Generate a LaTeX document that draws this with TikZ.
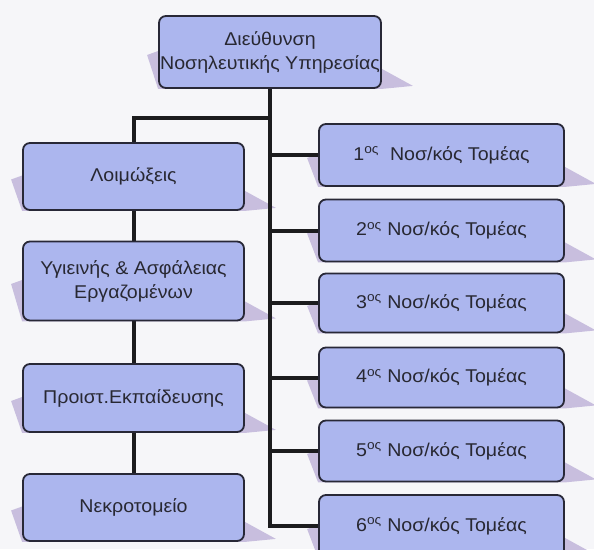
\documentclass[tikz,border=0pt]{standalone}
\usepackage{fontspec}
\setmainfont{Liberation Sans}[FakeStretch=1.06]
\usetikzlibrary{calc}
\pgfdeclarelayer{paperlayer}
\pgfdeclarelayer{behind}
\pgfsetlayers{paperlayer,behind,main}
\definecolor{boxfill}{RGB}{172,182,238}
\definecolor{boxline}{RGB}{40,40,55}
\definecolor{shade}{RGB}{200,190,222}
\definecolor{ink}{RGB}{40,40,50}
\definecolor{paper}{RGB}{246,246,249}
\definecolor{wire}{RGB}{28,28,30}
\begin{document}
\begin{tikzpicture}[x=1pt,y=-1pt,
  unit/.style 2 args={draw=boxline, line width=1.8pt, fill=boxfill,
    rounded corners=7pt, minimum width=#1, minimum height=#2,
    align=center, text=ink, inner sep=0pt,
    font=\fontsize{18.5}{24}\selectfont},
  conn/.style={draw=wire, line width=4pt},
  drop/.style={fill=shade}]
\begin{pgfonlayer}{paperlayer}
  \path[use as bounding box, fill=paper] (0,0) rectangle (594,549);
\end{pgfonlayer}
\clip (0,0) rectangle (594,549);

% head of the nursing service
\node[unit={222pt}{72pt}] (top) at (270,52) {Διεύθυνση\\Νοσηλευτικής Υπηρεσίας};

% staff units on the left
\node[unit={221pt}{67pt}] (L1) at (133.5,176.5) {Λοιμώξεις};
\node[unit={221pt}{79pt}] (L2) at (133.5,281) {Υγιεινής \& Ασφάλειας\\Εργαζομένων};
\node[unit={221pt}{68pt}] (L3) at (133.5,398) {Προιστ.Εκπαίδευσης};
\node[unit={221pt}{67pt}] (L4) at (133.5,507.5) {Νεκροτομείο};

% nursing sectors on the right
\node[unit={245pt}{62pt}] (R1) at (441.5,155) {1\textsuperscript{ος}\ \ Νοσ/κός Τομέας};
\node[unit={245pt}{62pt}] (R2) at (441.5,230.5) {2\textsuperscript{ος} Νοσ/κός Τομέας};
\node[unit={245pt}{59pt}] (R3) at (441.5,303) {3\textsuperscript{ος} Νοσ/κός Τομέας};
\node[unit={245pt}{60pt}] (R4) at (441.5,377.5) {4\textsuperscript{ος} Νοσ/κός Τομέας};
\node[unit={245pt}{61pt}] (R5) at (441.5,451) {5\textsuperscript{ος} Νοσ/κός Τομέας};
\node[unit={245pt}{62pt}] (R6) at (441.5,526) {6\textsuperscript{ος} Νοσ/κός Τομέας};

\coordinate (split) at (270,118);

\begin{pgfonlayer}{behind}
  % slanted drop shadows behind every box
  \foreach \n in {top,L1,L2,L3,L4,R1,R2,R3,R4,R5,R6} {
    \fill[drop] ($(\n.west)+(-11,3)$) -- ($(\n.west)+(0,-1)$)
      -- ($(\n.south east)+(0,-20)$) -- ($(\n.south east)+(31,-3)$)
      -- (\n.south east) -- (\n.south west) -- cycle;
  }
  % connectors
  \draw[conn] (top.south) -- (split) -| (L1.north);
  \draw[conn] (L1.south) -- (L2.north);
  \draw[conn] (L2.south) -- (L3.north);
  \draw[conn] (L3.south) -- (L4.north);
  \foreach \r in {R1,R2,R3,R4,R5,R6}
    \draw[conn] (split) |- (\r.west);
\end{pgfonlayer}
\end{tikzpicture}
\end{document}
